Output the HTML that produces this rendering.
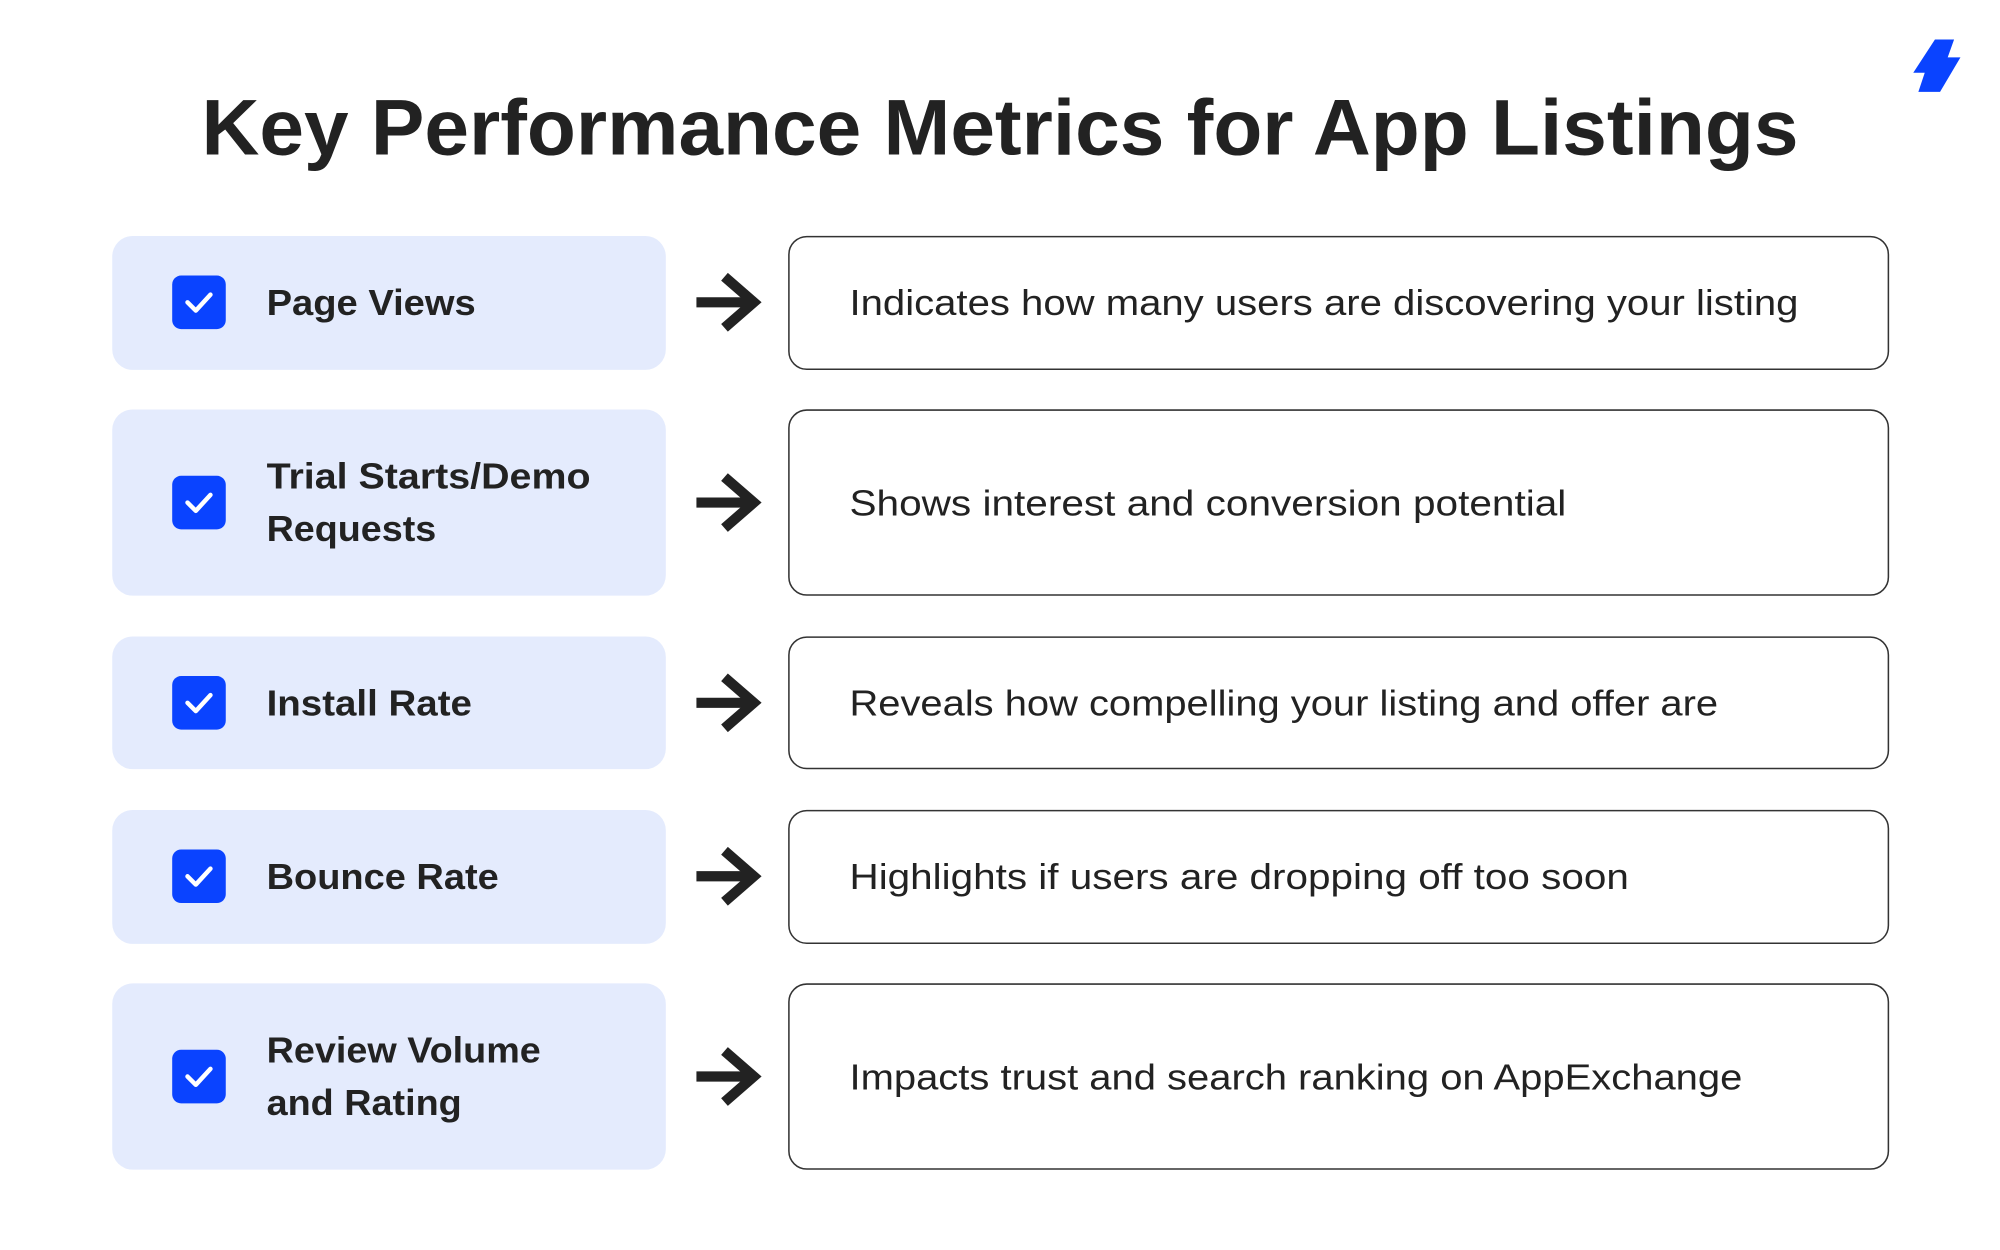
<!DOCTYPE html>
<html><head><meta charset="utf-8"><style>
html,body{margin:0;padding:0;background:#fff;}
svg{display:block;}
text{font-family:"Liberation Sans",sans-serif;fill:#222;}
.t{font-weight:bold;font-size:62px;}
.l{font-weight:bold;font-size:28px;}
.d{font-size:28px;}
</style></head><body>
<svg width="2000" height="1250" viewBox="0 0 1568 980" preserveAspectRatio="none" xmlns="http://www.w3.org/2000/svg">
<rect width="1568" height="980" fill="#fff"/>
<polygon points="1517,31 1532,31 1527,45 1537,45 1521,72 1504,72 1509,57 1500,57" fill="#0a43ff"/>
<text class="t" x="158" y="121" textLength="1252" lengthAdjust="spacingAndGlyphs">Key Performance Metrics for App Listings</text>
<defs>
<g id="chk"><rect x="0" y="0" width="42" height="42" rx="7" fill="#0a43ff"/><path d="M12 21 L18.5 27.5 L30 15" stroke="#fff" stroke-width="3.5" fill="none" stroke-linecap="round" stroke-linejoin="round"/></g>
<g id="arr"><path d="M0 -4 H40 V4 H0 Z" fill="#222"/><path d="M22 -20 L45 0 L22 20" stroke="#222" stroke-width="8" fill="none" stroke-linejoin="miter"/></g>
</defs>
<rect x="88" y="185" width="434" height="105" rx="16" fill="#e4ebfd"/>
<use href="#chk" x="135" y="216"/>
<text class="l" x="209" y="247" textLength="164" lengthAdjust="spacingAndGlyphs">Page Views</text>
<use href="#arr" x="546" y="237"/>
<rect x="618.5" y="185.5" width="862" height="104" rx="14" fill="none" stroke="#333" stroke-width="1.2"/>
<text class="d" x="666" y="247" textLength="744" lengthAdjust="spacingAndGlyphs">Indicates how many users are discovering your listing</text>
<rect x="88" y="321" width="434" height="146" rx="16" fill="#e4ebfd"/>
<use href="#chk" x="135" y="373"/>
<text class="l" x="209" y="383" textLength="254" lengthAdjust="spacingAndGlyphs">Trial Starts/Demo</text>
<text class="l" x="209" y="424" textLength="133" lengthAdjust="spacingAndGlyphs">Requests</text>
<use href="#arr" x="546" y="394"/>
<rect x="618.5" y="321.5" width="862" height="145" rx="14" fill="none" stroke="#333" stroke-width="1.2"/>
<text class="d" x="666" y="404" textLength="562" lengthAdjust="spacingAndGlyphs">Shows interest and conversion potential</text>
<rect x="88" y="499" width="434" height="104" rx="16" fill="#e4ebfd"/>
<use href="#chk" x="135" y="530"/>
<text class="l" x="209" y="561" textLength="161" lengthAdjust="spacingAndGlyphs">Install Rate</text>
<use href="#arr" x="546" y="551"/>
<rect x="618.5" y="499.5" width="862" height="103" rx="14" fill="none" stroke="#333" stroke-width="1.2"/>
<text class="d" x="666" y="561" textLength="681" lengthAdjust="spacingAndGlyphs">Reveals how compelling your listing and offer are</text>
<rect x="88" y="635" width="434" height="105" rx="16" fill="#e4ebfd"/>
<use href="#chk" x="135" y="666"/>
<text class="l" x="209" y="697" textLength="182" lengthAdjust="spacingAndGlyphs">Bounce Rate</text>
<use href="#arr" x="546" y="687"/>
<rect x="618.5" y="635.5" width="862" height="104" rx="14" fill="none" stroke="#333" stroke-width="1.2"/>
<text class="d" x="666" y="697" textLength="611" lengthAdjust="spacingAndGlyphs">Highlights if users are dropping off too soon</text>
<rect x="88" y="771" width="434" height="146" rx="16" fill="#e4ebfd"/>
<use href="#chk" x="135" y="823"/>
<text class="l" x="209" y="833" textLength="215" lengthAdjust="spacingAndGlyphs">Review Volume</text>
<text class="l" x="209" y="874" textLength="153" lengthAdjust="spacingAndGlyphs">and Rating</text>
<use href="#arr" x="546" y="844"/>
<rect x="618.5" y="771.5" width="862" height="145" rx="14" fill="none" stroke="#333" stroke-width="1.2"/>
<text class="d" x="666" y="854" textLength="700" lengthAdjust="spacingAndGlyphs">Impacts trust and search ranking on AppExchange</text>
</svg>
</body></html>
